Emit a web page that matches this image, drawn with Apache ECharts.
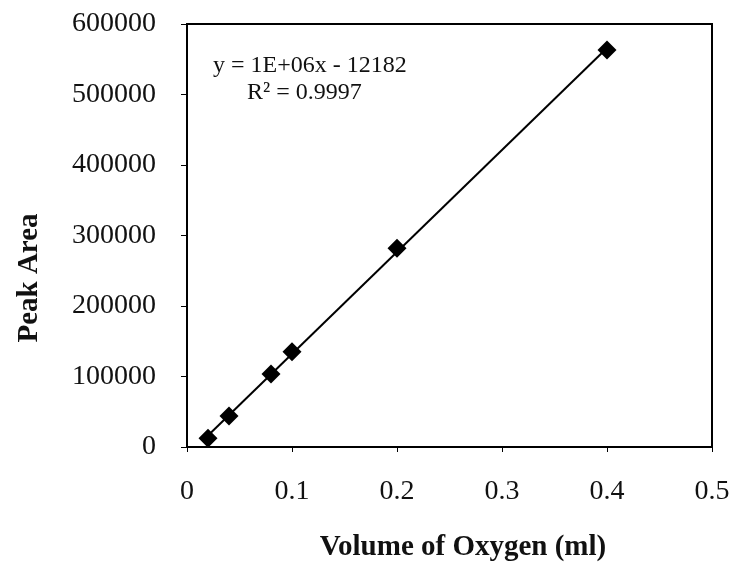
<!DOCTYPE html>
<html>
<head>
<meta charset="utf-8">
<style>
    html, body { margin: 0; padding: 0; background: #fff; }
    #chart { width: 737px; height: 571px; }
</style>
<script src="https://cdn.jsdelivr.net/npm/echarts@6/dist/echarts.min.js"></script>
</head>
<body>
<div id="chart"></div>
<script>
// 数据
var volumeData = [0.02, 0.04, 0.08, 0.1, 0.2, 0.4];          // Volume of Oxygen (ml)
var peakAreaData = [12300, 44000, 103500, 135200, 281800, 563000];
var equationText = 'y = 1E+06x - 12182';
var r2Text = 'R\u00B2 = 0.9997';

var serif = '"Liberation Serif", "Times New Roman", serif';

// 最小二乘趋势线
function trendLine(xs, ys){
    var n = xs.length, mx = 0, my = 0, sxx = 0, sxy = 0;
    for(var i = 0; i < n; i++){ mx += xs[i]; my += ys[i]; }
    mx /= n; my /= n;
    for(var j = 0; j < n; j++){
        sxx += (xs[j] - mx) * (xs[j] - mx);
        sxy += (xs[j] - mx) * (ys[j] - my);
    }
    var k = sxy / sxx, b = my - k * mx;
    var x0 = Math.min.apply(null, xs), x1 = Math.max.apply(null, xs);
    return [[x0, k * x0 + b], [x1, k * x1 + b]];
}

var points = [];
for(var i = 0; i < volumeData.length; i++){
    points.push([volumeData[i], peakAreaData[i]]);
}

var myChart = echarts.init(document.getElementById('chart'));
var option = {
    backgroundColor: '#fff',
    animation: false,
    grid: {
        left: 187,
        right: 25,
        top: 24,
        bottom: 124,
        show: true,
        borderColor: '#000',
        borderWidth: 2,
        backgroundColor: 'rgba(0,0,0,0)'
    },
    xAxis: {
        type: 'value',
        min: 0,
        max: 0.5,
        interval: 0.1,
        axisLine: { show: true, onZero: false, lineStyle: { color: '#000', width: 2 } },
        axisTick: { show: true, inside: false, length: 5, lineStyle: { color: '#000', width: 1 } },
        axisLabel: {
            margin: 31,
            color: '#111',
            fontFamily: serif,
            fontSize: 28,
            showMaxLabel: true
        },
        splitLine: { show: false }
    },
    yAxis: {
        type: 'value',
        min: 0,
        max: 600000,
        interval: 100000,
        axisLine: { show: true, onZero: false, lineStyle: { color: '#000', width: 2 } },
        axisTick: { show: true, inside: false, length: 6, lineStyle: { color: '#000', width: 1 } },
        axisLabel: {
            margin: 31,
            color: '#111',
            fontFamily: serif,
            fontSize: 28,
            formatter: function(v){ return String(v); }
        },
        splitLine: { show: false }
    },
    graphic: [
        {
            type: 'text',
            left: 213,
            top: 54,
            style: { text: equationText, fill: '#111', font: '24px ' + serif }
        },
        {
            type: 'text',
            left: 247,
            top: 81,
            style: { text: r2Text, fill: '#111', font: '24px ' + serif }
        },
        {
            type: 'text',
            x: 463,
            y: 548,
            style: {
                text: 'Volume of Oxygen (ml)',
                fill: '#111',
                font: 'bold 29px ' + serif,
                align: 'center',
                verticalAlign: 'middle'
            }
        },
        {
            type: 'text',
            x: 30,
            y: 278,
            rotation: Math.PI / 2,
            style: {
                text: 'Peak Area',
                fill: '#111',
                font: 'bold 29px ' + serif,
                align: 'center',
                verticalAlign: 'middle'
            }
        }
    ],
    series: [
        {
            name: 'trend',
            type: 'line',
            data: trendLine(volumeData, peakAreaData),
            symbol: 'none',
            lineStyle: { color: '#000', width: 2 },
            z: 2
        },
        {
            name: 'Peak Area',
            type: 'scatter',
            data: points,
            symbol: 'diamond',
            symbolSize: 19,
            itemStyle: { color: '#000', opacity: 1 },
            z: 3
        }
    ]
};
myChart.setOption(option);
</script>
</body>
</html>
